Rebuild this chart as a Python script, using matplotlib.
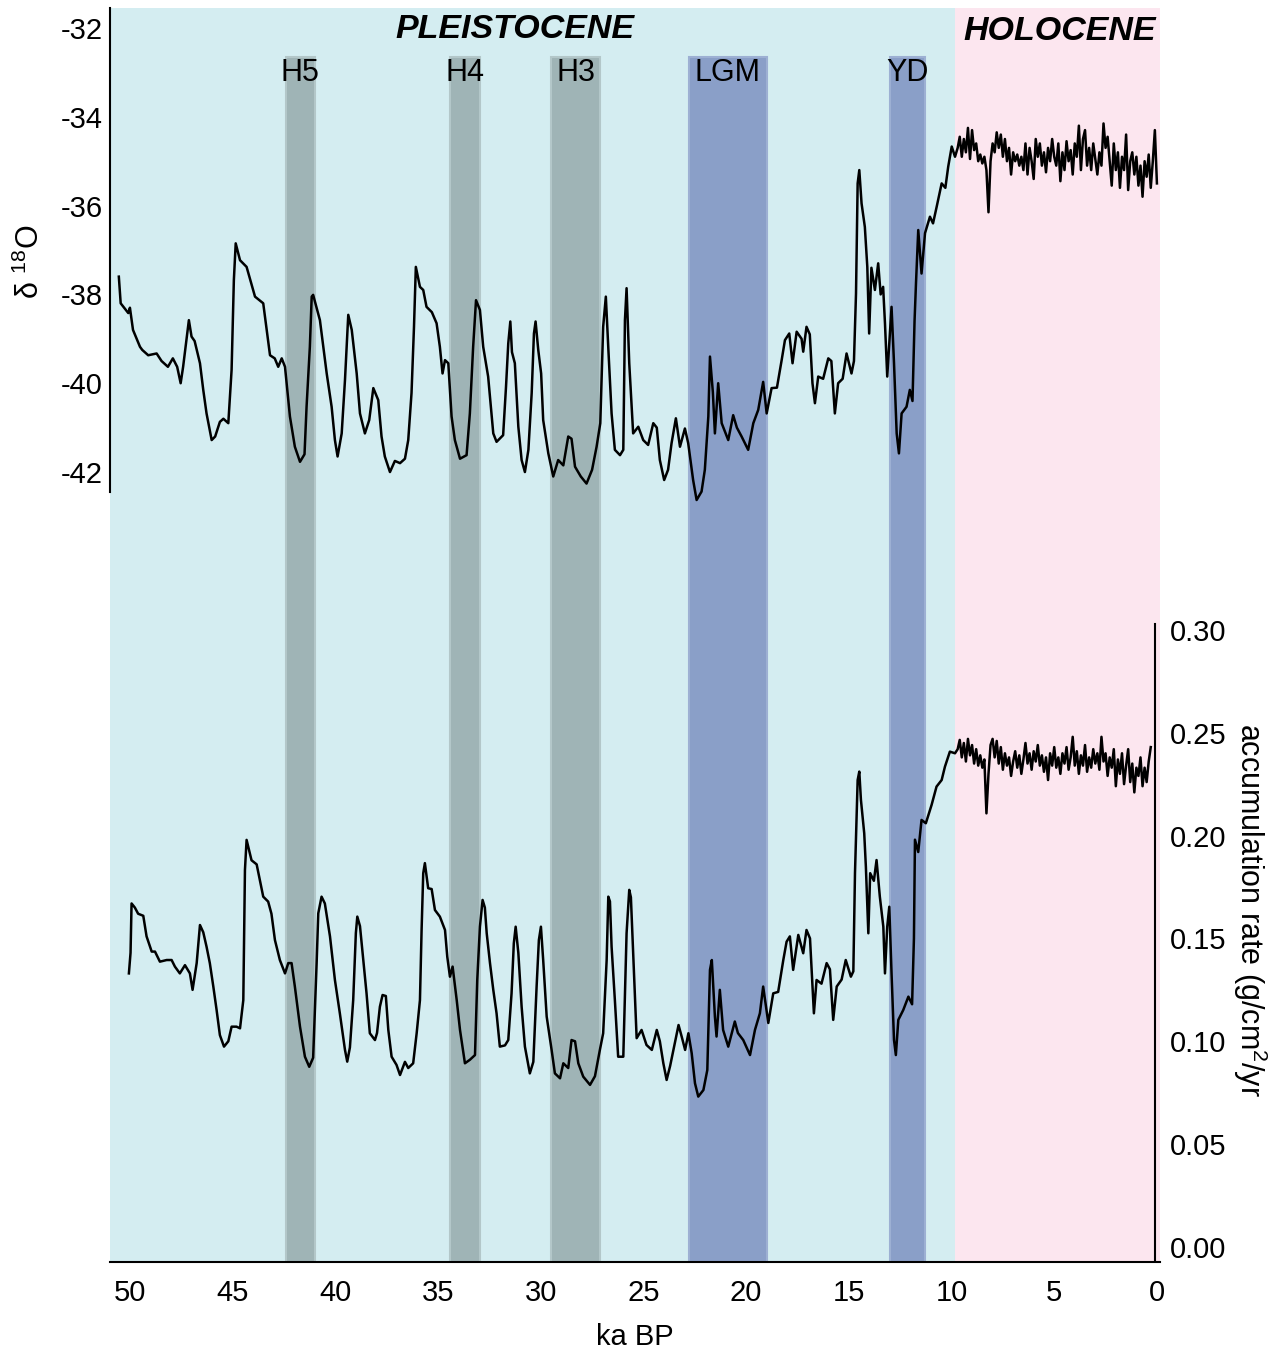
import numpy as np
import matplotlib
matplotlib.use("Agg")
import matplotlib.pyplot as plt

plt.rcParams['font.family'] = ['Liberation Sans', 'DejaVu Sans']
plt.rcParams['mathtext.fontset'] = 'custom'
plt.rcParams['mathtext.rm'] = 'Liberation Sans'

# ---- data ----
# delta 18O, glacial part (ka BP, permil)
d18o_glacial = [
    (50.54, -37.6), (50.45, -38.2), (50.08, -38.42), (50.0, -38.3), (49.85, -38.8),
    (49.51, -39.18), (49.4, -39.25), (49.11, -39.37), (48.70, -39.33), (48.46, -39.5),
    (48.15, -39.63), (47.91, -39.44), (47.70, -39.63), (47.53, -40.0), (47.41, -39.63),
    (47.13, -38.58), (47.00, -38.95), (46.85, -39.05), (46.59, -39.55), (46.43, -40.15),
    (46.27, -40.68), (46.02, -41.28), (45.85, -41.2), (45.62, -40.87), (45.45, -40.8),
    (45.21, -40.9), (45.05, -39.7), (44.94, -37.68), (44.85, -36.85), (44.64, -37.23),
    (44.32, -37.38), (43.91, -38.05), (43.51, -38.2), (43.34, -38.8), (43.18, -39.37),
    (42.95, -39.44), (42.78, -39.63), (42.61, -39.44), (42.45, -39.63), (42.21, -40.75),
    (41.97, -41.43), (41.72, -41.77), (41.5, -41.6), (41.40, -40.53), (41.24, -39.18),
    (41.15, -38.05), (41.08, -38.01), (40.75, -38.58), (40.42, -39.78), (40.18, -40.53),
    (40.02, -41.28), (39.89, -41.65), (39.69, -41.13), (39.53, -39.93), (39.37, -38.46),
    (39.2, -38.8), (38.96, -39.78), (38.80, -40.68), (38.56, -41.13), (38.35, -40.83),
    (38.15, -40.11), (37.91, -40.38), (37.75, -41.2), (37.59, -41.65), (37.34, -42.0),
    (37.1, -41.75), (36.85, -41.8), (36.61, -41.7), (36.45, -41.28), (36.29, -40.22),
    (36.17, -38.73), (36.08, -37.38), (35.88, -37.83), (35.72, -37.9), (35.56, -38.28),
    (35.3, -38.4), (35.07, -38.65), (34.91, -39.18), (34.78, -39.78), (34.66, -39.48),
    (34.50, -39.55), (34.34, -40.75), (34.18, -41.28), (33.93, -41.7), (33.61, -41.62),
    (33.45, -40.68), (33.29, -39.18), (33.15, -38.13), (32.96, -38.35), (32.80, -39.18),
    (32.56, -39.85), (32.31, -41.13), (32.15, -41.32), (31.83, -41.17), (31.69, -40.08),
    (31.58, -39.1), (31.48, -38.61), (31.40, -39.3), (31.26, -39.55), (31.09, -40.98),
    (30.93, -41.73), (30.77, -42.0), (30.6, -41.5), (30.44, -40.22), (30.33, -38.88),
    (30.25, -38.61), (30.12, -39.25), (29.98, -39.78), (29.88, -40.83), (29.63, -41.58),
    (29.39, -42.1), (29.15, -41.73), (28.9, -41.85), (28.66, -41.2), (28.5, -41.25),
    (28.33, -41.88), (28.05, -42.1), (27.77, -42.26), (27.5, -41.95), (27.28, -41.43),
    (27.1, -40.9), (26.96, -38.73), (26.83, -38.05), (26.70, -39.3), (26.55, -40.68),
    (26.39, -41.5), (26.14, -41.62), (25.98, -41.5), (25.90, -38.58), (25.82, -37.86),
    (25.69, -39.55), (25.50, -41.13), (25.25, -40.98), (25.01, -41.28), (24.77, -41.39),
    (24.52, -40.9), (24.35, -41.0), (24.20, -41.73), (23.99, -42.18), (23.80, -41.95),
    (23.63, -41.35), (23.42, -40.79), (23.22, -41.43), (22.98, -41.02), (22.82, -41.35),
    (22.58, -42.18), (22.41, -42.63), (22.17, -42.44), (22.01, -41.95), (21.84, -40.75),
    (21.76, -39.4), (21.62, -40.2), (21.52, -41.13), (21.36, -40.0), (21.19, -40.9),
    (20.87, -41.28), (20.63, -40.72), (20.45, -41.0), (20.22, -41.2), (19.90, -41.5),
    (19.65, -40.9), (19.41, -40.6), (19.17, -39.97), (19.00, -40.68), (18.76, -40.11),
    (18.5, -40.1), (18.27, -39.48), (18.11, -39.03), (17.90, -38.88), (17.74, -39.55),
    (17.54, -38.84), (17.3, -39.0), (17.22, -39.29), (17.06, -38.73), (16.9, -38.9),
    (16.77, -40.0), (16.65, -40.45), (16.49, -39.85), (16.25, -39.9), (16.00, -39.44),
    (15.85, -39.5), (15.68, -40.68), (15.52, -40.0), (15.3, -39.9), (15.11, -39.33),
    (14.87, -39.78), (14.75, -39.5), (14.65, -37.98), (14.57, -35.5), (14.49, -35.2),
    (14.38, -35.95), (14.22, -36.48), (14.10, -37.38), (14.01, -38.88), (13.9, -37.4),
    (13.73, -37.9), (13.57, -37.3), (13.45, -38.0), (13.33, -37.83), (13.24, -38.65),
    (13.13, -39.85), (13.00, -38.88), (12.92, -38.28), (12.80, -39.55), (12.67, -41.13),
    (12.56, -41.58), (12.43, -40.68), (12.19, -40.53), (12.03, -40.15), (11.9, -40.4),
    (11.80, -38.6), (11.73, -37.75), (11.62, -36.55), (11.46, -37.53), (11.29, -36.62),
    (11.05, -36.25), (10.9, -36.4), (10.72, -36.02), (10.48, -35.5), (10.3, -35.6),
    (10.16, -35.12), (9.99, -34.67), (9.83, -34.9),
]

# delta 18O, Holocene part, one value every 0.1 ka from 9.7 to 0.0
d18o_holocene = [
    -34.7, -34.45, -34.9, -34.5, -34.8, -34.25, -34.95, -34.3, -34.75, -34.6,
    -35.0, -34.85, -35.05, -34.9, -35.2, -36.15, -35.0, -34.6, -34.8, -34.35,
    -34.7, -34.4, -34.9, -34.5, -35.0, -34.7, -35.3, -34.8, -35.0, -34.85,
    -35.1, -34.9, -35.2, -34.6, -35.3, -34.7, -35.0, -35.4, -34.5, -34.9,
    -34.6, -35.1, -34.8, -35.25, -34.7, -35.0, -34.5, -34.9, -35.1, -34.6,
    -35.45, -34.8, -35.2, -34.55, -35.0, -34.75, -35.3, -34.6, -34.9, -34.2,
    -35.2, -34.5, -34.3, -35.1, -34.7, -35.2, -34.6, -34.95, -35.3, -34.8,
    -35.1, -34.15, -34.7, -34.45, -35.0, -35.55, -34.6, -35.2, -34.8, -35.6,
    -34.9, -35.2, -34.4, -35.65, -35.0, -34.8, -35.3, -34.9, -35.55, -35.1,
    -35.8, -35.0, -35.35, -34.85, -35.6, -35.0, -34.3, -35.5,
]

# accumulation rate, glacial part (ka BP, g/cm2/yr)
acc_glacial = [
    (50.05, 0.133), (49.97, 0.143), (49.92, 0.167), (49.76, 0.165), (49.60, 0.162),
    (49.35, 0.161), (49.19, 0.151), (48.94, 0.1436), (48.78, 0.1436), (48.54, 0.1387),
    (48.21, 0.1395), (47.97, 0.1395), (47.81, 0.1363), (47.57, 0.133), (47.32, 0.137),
    (47.08, 0.133), (46.95, 0.125), (46.75, 0.138), (46.59, 0.1565), (46.43, 0.153),
    (46.27, 0.146), (46.11, 0.138), (45.94, 0.1266), (45.78, 0.1152), (45.62, 0.103),
    (45.42, 0.0974), (45.21, 0.100), (45.05, 0.1071), (44.81, 0.1071), (44.64, 0.1063),
    (44.48, 0.12), (44.40, 0.1833), (44.32, 0.1979), (44.08, 0.188), (43.83, 0.186),
    (43.51, 0.1703), (43.27, 0.1679), (43.11, 0.162), (42.94, 0.1492), (42.70, 0.1395),
    (42.45, 0.133), (42.29, 0.138), (42.13, 0.138), (41.97, 0.1266), (41.72, 0.1071),
    (41.48, 0.0925), (41.27, 0.0876), (41.08, 0.092), (40.91, 0.138), (40.83, 0.1622),
    (40.67, 0.1703), (40.51, 0.167), (40.26, 0.151), (40.02, 0.1298), (39.78, 0.1136),
    (39.53, 0.0958), (39.42, 0.0901), (39.29, 0.097), (39.13, 0.12), (39.00, 0.1526),
    (38.93, 0.1606), (38.80, 0.156), (38.64, 0.1395), (38.48, 0.1233), (38.32, 0.1039),
    (38.07, 0.1006), (37.97, 0.104), (37.83, 0.1168), (37.70, 0.1225), (37.54, 0.122),
    (37.42, 0.1055), (37.26, 0.0925), (37.02, 0.0885), (36.85, 0.0836), (36.61, 0.090),
    (36.45, 0.087), (36.21, 0.0893), (36.04, 0.1039), (35.88, 0.12), (35.80, 0.1541),
    (35.72, 0.1817), (35.64, 0.1866), (35.48, 0.1744), (35.31, 0.174), (35.15, 0.1638),
    (34.91, 0.1606), (34.66, 0.1541), (34.55, 0.1411), (34.42, 0.1314), (34.29, 0.1363),
    (34.09, 0.12), (33.93, 0.1055), (33.69, 0.0893), (33.45, 0.091), (33.20, 0.0933),
    (33.09, 0.1298), (32.96, 0.1557), (32.83, 0.1687), (32.72, 0.165), (32.63, 0.1525),
    (32.47, 0.138), (32.31, 0.125), (32.15, 0.1136), (31.99, 0.0974), (31.74, 0.098),
    (31.58, 0.1006), (31.42, 0.1233), (31.31, 0.1476), (31.22, 0.1557), (31.09, 0.143),
    (30.93, 0.1168), (30.77, 0.0974), (30.53, 0.0844), (30.36, 0.090), (30.20, 0.1266),
    (30.09, 0.1492), (29.99, 0.1557), (29.88, 0.1395), (29.71, 0.112), (29.47, 0.0958),
    (29.31, 0.0844), (29.06, 0.082), (28.90, 0.0893), (28.66, 0.087), (28.50, 0.1006),
    (28.33, 0.100), (28.17, 0.0893), (27.93, 0.0828), (27.60, 0.0788), (27.36, 0.083),
    (27.12, 0.0958), (26.96, 0.1039), (26.79, 0.1395), (26.71, 0.1703), (26.63, 0.168),
    (26.55, 0.146), (26.39, 0.12), (26.23, 0.0925), (25.98, 0.0925), (25.82, 0.1525),
    (25.69, 0.1736), (25.61, 0.170), (25.50, 0.1428), (25.33, 0.1015), (25.09, 0.1055),
    (24.85, 0.0982), (24.59, 0.0958), (24.35, 0.1055), (24.20, 0.100), (24.03, 0.0893),
    (23.87, 0.0812), (23.70, 0.088), (23.54, 0.0958), (23.29, 0.1079), (23.13, 0.102),
    (22.97, 0.0958), (22.81, 0.1039), (22.65, 0.0942), (22.49, 0.0796), (22.33, 0.0731),
    (22.08, 0.0763), (21.89, 0.086), (21.76, 0.1347), (21.67, 0.1395), (21.52, 0.112),
    (21.44, 0.1023), (21.28, 0.125), (21.12, 0.1055), (20.87, 0.0974), (20.55, 0.1096),
    (20.40, 0.104), (20.14, 0.1006), (19.81, 0.0933), (19.57, 0.1055), (19.33, 0.1136),
    (19.17, 0.1266), (18.92, 0.1089), (18.68, 0.1233), (18.44, 0.124), (18.19, 0.1395),
    (18.03, 0.1484), (17.87, 0.151), (17.71, 0.1347), (17.46, 0.1517), (17.22, 0.1428),
    (17.06, 0.1541), (16.89, 0.150), (16.77, 0.1266), (16.70, 0.1136), (16.57, 0.1298),
    (16.33, 0.128), (16.08, 0.138), (15.92, 0.135), (15.76, 0.1104), (15.59, 0.1266),
    (15.35, 0.130), (15.15, 0.1395), (14.90, 0.1314), (14.78, 0.134), (14.70, 0.1817),
    (14.57, 0.227), (14.49, 0.2311), (14.41, 0.2173), (14.25, 0.2011), (14.17, 0.1849),
    (14.05, 0.1525), (13.96, 0.1817), (13.78, 0.178), (13.65, 0.1881), (13.49, 0.1703),
    (13.32, 0.1557), (13.24, 0.133), (13.13, 0.1557), (13.03, 0.1654), (12.92, 0.133),
    (12.80, 0.1006), (12.71, 0.0933), (12.59, 0.1104), (12.35, 0.1152), (12.10, 0.1217),
    (11.92, 0.118), (11.83, 0.150), (11.78, 0.198), (11.62, 0.192), (11.46, 0.2076),
    (11.25, 0.206), (10.97, 0.2149), (10.73, 0.2238), (10.48, 0.227), (10.32, 0.2335),
    (10.08, 0.2408), (9.83, 0.240),
]

# accumulation rate, Holocene part, one value every 0.1 ka from 9.7 to 0.3
acc_holocene = [
    0.2420, 0.2465, 0.2380, 0.2450, 0.2360, 0.2470, 0.2390, 0.2440, 0.2350, 0.2420,
    0.2340, 0.2390, 0.2330, 0.2370, 0.2108, 0.2300, 0.2440, 0.2470, 0.2380, 0.2460,
    0.2350, 0.2430, 0.2320, 0.2400, 0.2340, 0.2380, 0.2290, 0.2360, 0.2410, 0.2330,
    0.2390, 0.2300, 0.2370, 0.2450, 0.2350, 0.2400, 0.2320, 0.2410, 0.2360, 0.2440,
    0.2340, 0.2390, 0.2310, 0.2380, 0.2270, 0.2400, 0.2340, 0.2430, 0.2330, 0.2380,
    0.2300, 0.2400, 0.2350, 0.2430, 0.2320, 0.2380, 0.2480, 0.2340, 0.2410, 0.2300,
    0.2390, 0.2340, 0.2440, 0.2310, 0.2380, 0.2330, 0.2420, 0.2350, 0.2400, 0.2320,
    0.2480, 0.2360, 0.2400, 0.2290, 0.2380, 0.2330, 0.2420, 0.2240, 0.2370, 0.2300,
    0.2400, 0.2250, 0.2340, 0.2420, 0.2260, 0.2350, 0.2210, 0.2330, 0.2290, 0.2380,
    0.2240, 0.2330, 0.2260, 0.2360, 0.2430,
]

# shaded events (start ka, end ka, label)
events = [(42.4, 41.0, 'H5'), (34.4, 32.95, 'H4'), (29.5, 27.1, 'H3'),
          (22.8, 19.0, 'LGM'), (13.0, 11.3, 'YD')]
holocene_start = 9.83
x_ticks = [50, 45, 40, 35, 30, 25, 20, 15, 10, 5, 0]
d18o_ticks = [-32, -34, -36, -38, -40, -42]
acc_ticks = [0.00, 0.05, 0.10, 0.15, 0.20, 0.25, 0.30]

# ---- build series ----
holo_ka = np.round(np.arange(9.7, -0.05, -0.1), 2)[:len(d18o_holocene)]
d18o_ka = [a for a, v in d18o_glacial] + list(holo_ka)
d18o_val = [v for a, v in d18o_glacial] + d18o_holocene
acc_holo_ka = np.round(np.arange(9.7, -0.05, -0.1), 2)[:len(acc_holocene)]
acc_ka = [a for a, v in acc_glacial] + list(acc_holo_ka)
acc_val = [v for a, v in acc_glacial] + acc_holocene

# ---- figure ----
W, H = 1268, 1354
fig = plt.figure(figsize=(W / 100, H / 100), dpi=100)
ax = fig.add_axes([110 / W, 92 / H, 1050 / W, 1254 / H])
ax.set_xlim(50.97, -0.15)
ax.set_ylim(-59.79, -31.55)

# background periods
ax.axvspan(50.97, holocene_start, color='#d4edf1', lw=0, zorder=0)
ax.axvspan(holocene_start, -0.15, color='#fce6ef', lw=0, zorder=0)
band_top = (1262 - 57) / 1254
for start, end, name in events:
    if name.startswith('H'):
        c, ec = '#9fb4b6', '#b3c7c9'
    else:
        c, ec = '#8a9fc8', '#9db0d3'
    ax.axvspan(start, end, ymax=band_top, facecolor=c, edgecolor=ec, lw=1.5, zorder=1)
    ax.text((start + end) / 2, (1262 - 73) / 1254, name, transform=ax.get_xaxis_transform(),
            ha='center', va='center', fontsize=22, zorder=5)

ax.text(31.25, (1262 - 30) / 1254, 'PLEISTOCENE', transform=ax.get_xaxis_transform(),
        ha='center', va='center', fontsize=24.5, fontweight='bold', fontstyle='italic', zorder=5)
ax.text(4.75, (1262 - 32) / 1254, 'HOLOCENE', transform=ax.get_xaxis_transform(),
        ha='center', va='center', fontsize=24.5, fontweight='bold', fontstyle='italic', zorder=5)

ax.plot(d18o_ka, d18o_val, color='black', lw=1.8, zorder=4)

ax.set_yticks(d18o_ticks)
ax.set_yticklabels([str(t) for t in d18o_ticks])
ax.set_xticks(x_ticks)
ax.set_xticklabels([str(t) for t in x_ticks])
ax.tick_params(axis='y', length=0, pad=5, labelsize=21)
ax.tick_params(axis='x', length=0, pad=12, labelsize=21)
ax.spines['top'].set_visible(False)
ax.spines['right'].set_visible(False)
ax.spines['left'].set_bounds(-42.45, -31.55)
ax.spines['left'].set_linewidth(1.5)
ax.spines['bottom'].set_linewidth(1.5)
ax.set_xlabel('ka BP', fontsize=21, labelpad=12)

ax2 = ax.twinx()
ax2.set_ylim(-0.0073, 0.6023)
ax2.plot(acc_ka, acc_val, color='black', lw=1.8, zorder=4)
ax2.set_yticks(acc_ticks)
ax2.set_yticklabels(['%.2f' % t for t in acc_ticks])
ax2.tick_params(axis='y', length=0, pad=11, labelsize=21)
for s in ['top', 'left', 'bottom']:
    ax2.spines[s].set_visible(False)
ax2.spines['right'].set_position(('data', 0.1))
ax2.spines['right'].set_bounds(-0.007, 0.303)
ax2.spines['right'].set_linewidth(1.5)

fig.text(30 / W, 1 - 262 / H, r'δ $\mathregular{^{18}}$O', rotation=90,
         ha='center', va='center', fontsize=22)
fig.text(1250 / W, 1 - 910 / H, r'accumulation rate (g/cm$\mathregular{^{2}}$/yr',
         rotation=270, ha='center', va='center', fontsize=22)

fig.savefig('out.png', dpi=100)
